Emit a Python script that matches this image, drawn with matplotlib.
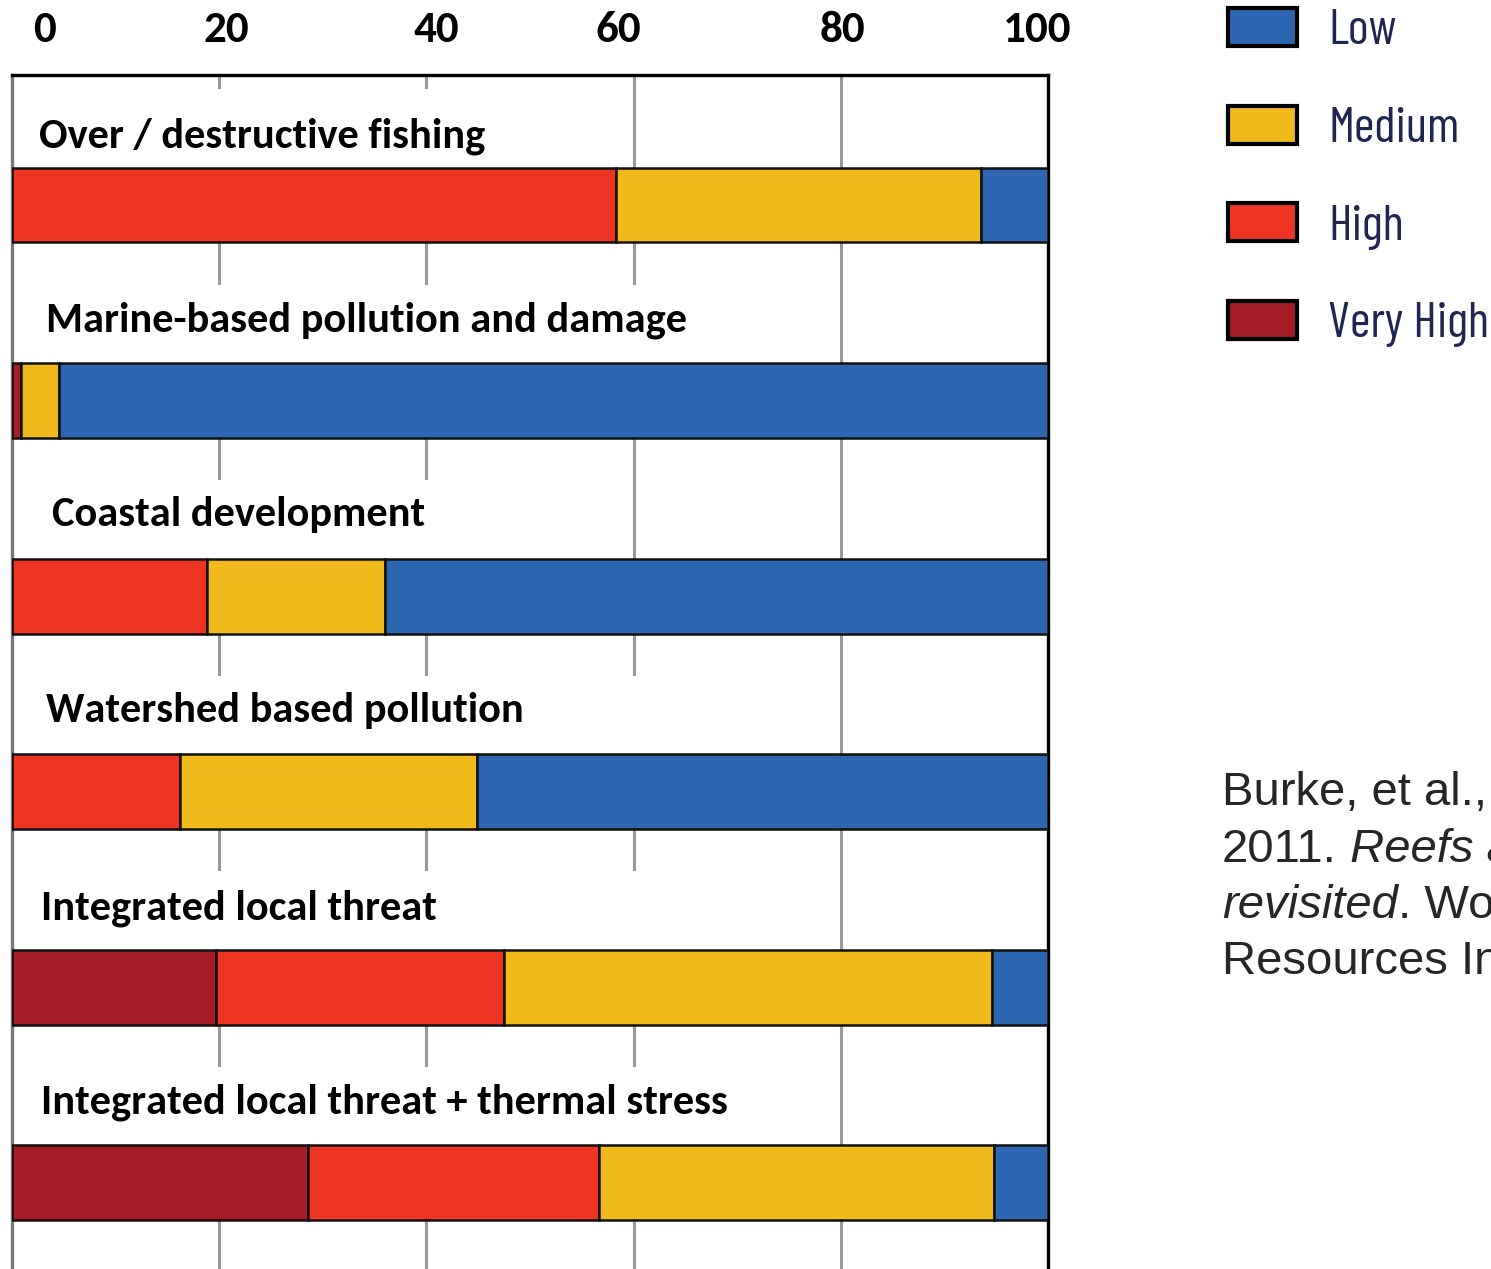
import matplotlib
matplotlib.use("Agg")
import matplotlib.pyplot as plt
from matplotlib.patches import Rectangle
from matplotlib.text import Annotation
import numpy as np

# ---------------- data ----------------
categories = [
    "Over / destructive fishing",
    "Marine-based pollution and damage",
    "Coastal development",
    "Watershed based pollution",
    "Integrated local threat",
    "Integrated local threat + thermal stress",
]
very_high = [0.0, 0.9, 0.0, 0.0, 19.7, 28.6]
high = [58.3, 0.0, 18.8, 16.2, 27.8, 28.1]
medium = [35.2, 3.6, 17.2, 28.7, 47.1, 38.1]
low = [6.5, 95.5, 64.0, 55.1, 5.4, 5.2]

series_names = ["Very High", "High", "Medium", "Low"]
legend_order = ["Low", "Medium", "High", "Very High"]
tick_labels = ["0", "20", "40", "60", "80", "100"]
grid_values = [20, 40, 60, 80]

# ---------------- style / layout ----------------
colors = {"Low": "#2e67b1", "Medium": "#f0b91c", "High": "#ee3524", "Very High": "#a51c24"}
tick_label_x = [3.1, 20.7, 41.0, 58.5, 80.2, 99.0]
label_x = [2.6, 3.3, 3.9, 3.3, 2.8, 2.8]
label_gap_px = [20, 32, 33, 32, 30, 32]
label_box_right = [50, 66, 50, 66, 66, 66]
bar_h = 0.383
row_px = 195.6

W, H = 1491, 1269
fig = plt.figure(figsize=(W / 100, H / 100), dpi=100)
fig.patch.set_facecolor("white")

ax_left, ax_right = 12 / W, 1048 / W
ax_top = 1 - 75 / H
ax_bottom = -31 / H
ax = fig.add_axes([ax_left, ax_bottom, ax_right - ax_left, ax_top - ax_bottom])

y = np.arange(len(categories))
left = np.zeros(len(categories))
containers = {}
for name, vals in zip(series_names, [very_high, high, medium, low]):
    c = ax.barh(y, vals, left=left, height=bar_h, color=colors[name],
                edgecolor="#111111", linewidth=1.8, zorder=3, label=name)
    containers[name] = c
    left = left + np.array(vals)

ax.set_xlim(0, 100)
ax.set_ylim(5.6, -0.665)

for g in grid_values:
    ax.axvline(g, color="#999999", linewidth=2.2, zorder=1)

label_font = ["Carlito", "Lato", "DejaVu Sans"]
for i, cat in enumerate(categories):
    top = y[i] - bar_h / 2
    ax.add_patch(Rectangle((0, top - 0.40), label_box_right[i], 0.40,
                           facecolor="white", edgecolor="none", zorder=2))
    ax.text(label_x[i], top - label_gap_px[i] / row_px, cat, fontsize=30.5,
            fontweight="bold", family=label_font, color="black",
            va="baseline", ha="left", zorder=4)

ax.set_xticks(tick_label_x, tick_labels)
ax.set_yticks([])
ax.tick_params(axis="x", top=True, labeltop=True, bottom=False, labelbottom=False,
               length=0, pad=19)
for t in ax.get_xticklabels():
    t.set_fontsize(32.5)
    t.set_fontweight("bold")
    t.set_family(label_font)

for s in ["top", "right"]:
    ax.spines[s].set_color("black")
    ax.spines[s].set_linewidth(2.4)
ax.spines["left"].set_color("#777777")
ax.spines["left"].set_linewidth(2.4)
ax.spines["bottom"].set_visible(False)

# legend
handles = [containers[n] for n in legend_order]
leg = fig.legend(handles, legend_order,
                 loc="upper left", bbox_to_anchor=(1228 / W, 1 - 8 / H),
                 frameon=False, borderpad=0, borderaxespad=0,
                 handlelength=1.38, handleheight=0.80, handletextpad=0.62,
                 labelspacing=1.02,
                 prop={"family": ["Barlow Condensed", "Roboto Condensed", "DejaVu Sans"],
                       "size": 36})
for t in leg.get_texts():
    t.set_color("#1f2650")
for p in leg.get_patches():
    p.set_linewidth(3.0)
    p.set_edgecolor("black")

# citation
cite_font = ["Liberation Sans", "DejaVu Sans"]
cite_size = 34
cx = 1222 / W
base = [805, 862, 918, 974]
lines = [
    [("Burke, et al.,", "normal")],
    [("2011.", "normal"), (" Reefs at risk", "italic")],
    [("revisited", "italic"), (". World", "normal")],
    [("Resources Institute", "normal")],
]
for b, parts in zip(base, lines):
    prev = None
    for txt, style in parts:
        if prev is None:
            prev = fig.text(cx, 1 - b / H, txt, fontsize=cite_size, family=cite_font,
                            style=style, color="#262626", va="baseline", ha="left")
        else:
            prev = fig.add_artist(Annotation(
                txt, xy=(1, 0), xycoords=prev, va="bottom", ha="left",
                fontsize=cite_size, family=cite_font, style=style, color="#262626"))

fig.savefig("out.png", dpi=100, facecolor="white")
